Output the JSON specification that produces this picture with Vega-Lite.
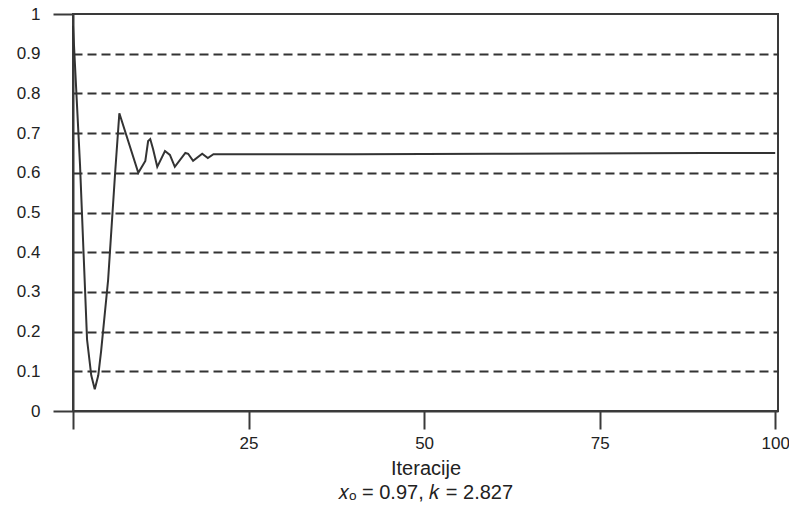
{
  "$schema": "https://vega.github.io/schema/vega-lite/v6.json",
  "width": 705,
  "height": 397,
  "autosize": {"type": "none"},
  "padding": {"left": 73, "top": 14, "right": 11, "bottom": 101},
  "background": "white",
  "config": {
    "font": "Liberation Sans",
    "view": {"stroke": "#3a3a3a", "strokeWidth": 2}
  },
  "title": {
    "text": "𝑥ₒ = 0.97,  𝑘 = 2.827",
    "orient": "bottom",
    "anchor": "middle",
    "font": "Liberation Sans",
    "fontSize": 20,
    "fontWeight": "normal",
    "color": "#222",
    "offset": 5
  },
  "data": {
    "values": [
      {"iter": 0, "x": 0.97},
      {"iter": 1, "x": 0.62},
      {"iter": 2, "x": 0.18},
      {"iter": 2.6, "x": 0.09},
      {"iter": 3.1, "x": 0.055},
      {"iter": 3.6, "x": 0.09},
      {"iter": 4, "x": 0.15},
      {"iter": 5, "x": 0.33},
      {"iter": 6, "x": 0.6},
      {"iter": 6.6, "x": 0.75},
      {"iter": 9.3, "x": 0.6},
      {"iter": 10.3, "x": 0.63},
      {"iter": 10.7, "x": 0.68},
      {"iter": 11, "x": 0.685},
      {"iter": 11.4, "x": 0.66},
      {"iter": 12, "x": 0.615},
      {"iter": 13.1, "x": 0.655},
      {"iter": 13.8, "x": 0.645},
      {"iter": 14.5, "x": 0.615},
      {"iter": 16, "x": 0.65},
      {"iter": 16.4, "x": 0.648},
      {"iter": 17.1, "x": 0.63},
      {"iter": 18.4, "x": 0.648},
      {"iter": 19.2, "x": 0.637},
      {"iter": 20, "x": 0.647},
      {"iter": 40, "x": 0.647},
      {"iter": 60, "x": 0.648},
      {"iter": 90, "x": 0.65},
      {"iter": 100, "x": 0.65}
    ]
  },
  "mark": {"type": "line", "color": "#333", "strokeWidth": 2, "interpolate": "linear"},
  "encoding": {
    "x": {
      "field": "iter",
      "type": "quantitative",
      "scale": {"domain": [0, 100.4], "nice": false, "zero": false},
      "axis": {
        "values": [0, 25, 50, 75, 100],
        "labelExpr": "datum.value == 0 ? '' : datum.label",
        "title": "Iteracije",
        "titleFont": "Liberation Sans",
        "titleFontSize": 20,
        "titleFontWeight": "normal",
        "titleColor": "#222",
        "titlePadding": 7,
        "labelFont": "Liberation Sans",
        "labelFontSize": 17,
        "labelColor": "#222",
        "labelPadding": 6,
        "tickSize": 18,
        "tickColor": "#3a3a3a",
        "tickWidth": 2,
        "domainColor": "#3a3a3a",
        "domainWidth": 2,
        "grid": false
      }
    },
    "y": {
      "field": "x",
      "type": "quantitative",
      "scale": {"domain": [0, 1], "nice": false},
      "axis": {
        "values": [0, 0.1, 0.2, 0.3, 0.4, 0.5, 0.6, 0.7, 0.8, 0.9, 1],
        "labelExpr": "datum.value == 0 ? '0' : datum.value == 1 ? '1' : format(datum.value, '.1f')",
        "title": null,
        "labelFont": "Liberation Sans",
        "labelFontSize": 17,
        "labelColor": "#222",
        "labelPadding": 13,
        "tickSize": 20,
        "tickColor": "#3a3a3a",
        "tickWidth": 2,
        "tickOpacity": {"condition": {"test": "datum.value == 0 || datum.value == 1", "value": 1}, "value": 0},
        "domainColor": "#3a3a3a",
        "domainWidth": 2,
        "grid": true,
        "gridColor": "#333",
        "gridWidth": 2,
        "gridDash": [9, 5],
        "gridOpacity": {"condition": {"test": "datum.value == 0 || datum.value == 1", "value": 0}, "value": 1}
      }
    }
  }
}
